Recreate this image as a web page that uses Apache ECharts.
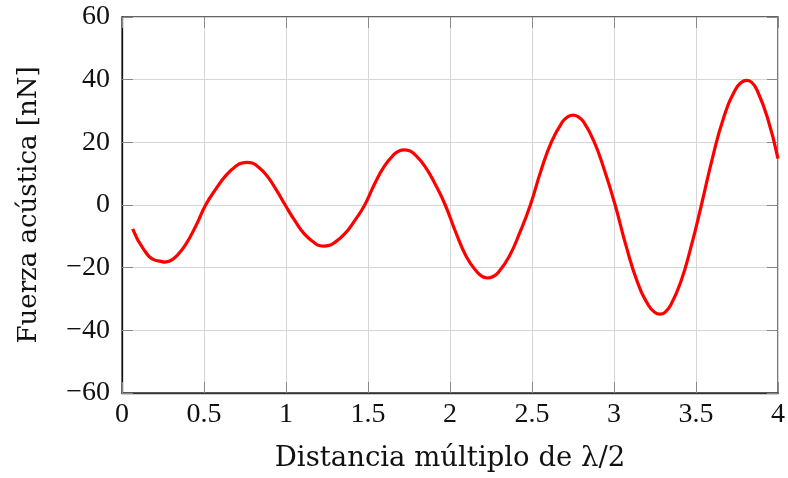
<!DOCTYPE html>
<html>
<head>
<meta charset="utf-8">
<script src="https://cdn.jsdelivr.net/npm/echarts@6/dist/echarts.min.js"></script>
<style>html,body{margin:0;padding:0;background:#fff}#c{width:788px;height:478px}</style>
</head>
<body>
<div id="c"></div>
<script>
var xValues = [0.065,0.13,0.20,0.231,0.261,0.291,0.33,0.385,0.45,0.51,0.575,0.637,0.70,0.733,0.763,0.793,0.82,0.88,0.94,0.995,
  1.055,1.113,1.175,1.202,1.232,1.262,1.29,1.356,1.42,1.48,1.54,1.60,1.66,1.692,1.722,1.752,1.78,1.846,1.91,1.971,
  2.035,2.10,2.165,2.200,2.230,2.260,2.295,2.36,2.425,2.49,2.555,2.62,2.685,2.720,2.750,2.780,2.815,2.878,2.94,3.007,
  3.075,3.143,3.21,3.250,3.280,3.310,3.345,3.407,3.47,3.533,3.60,3.67,3.74,3.778,3.808,3.838,3.87,3.935,4.0];
var forceValues = [-7.6,-14.0,-17.6,-17.9,-18.2,-17.9,-16.4,-12.9,-6.7,0,5.3,9.6,12.6,13.4,13.6,13.4,12.6,9.6,4.9,0,
  -5.1,-9.3,-12.1,-12.9,-13.1,-12.9,-12.2,-9.3,-4.9,0,6.7,12.4,16.2,17.3,17.6,17.3,16.4,12.4,6.6,0,
  -8.7,-16.5,-21.4,-22.9,-23.3,-22.9,-21.5,-16.5,-8.9,0,11.0,20.3,26.5,28.2,28.7,28.2,26.5,20.3,11.4,0,
  -13.3,-24.6,-32.0,-34.3,-34.8,-34.3,-32.0,-24.6,-13.3,0,14.9,28.1,36.8,39.2,39.8,39.2,36.9,28.0,14.8];
var xTicks = {min: 0, max: 4, step: 0.5};
var yTicks = {min: -60, max: 60, step: 20};
var xTitle = 'Distancia múltiplo de λ/2';
var yTitle = 'Fuerza acústica [nN]';

var data = xValues.map(function (x, i) { return [x, forceValues[i]]; });
var font = 'Liberation Serif';
var tfont = 'DejaVu Serif';
var fs = 28;
function fmt(v) { return String(v).replace('-', '\u2212'); }
var tickStyle = {show: true, inside: true, length: 11, lineStyle: {color: '#888', width: 1}};
var chart = echarts.init(document.getElementById('c'));
chart.setOption({
  animation: false,
  grid: {left: 122, right: 7, top: 17, bottom: 83, show: true, borderColor: '#333', borderWidth: 1.3, backgroundColor: 'transparent'},
  xAxis: [{
    type: 'value', min: xTicks.min, max: xTicks.max, interval: xTicks.step,
    axisLine: {show: true, onZero: false, lineStyle: {color: '#333', width: 1.3}},
    axisTick: tickStyle,
    splitLine: {show: true, lineStyle: {color: '#d6d6d6', width: 1}},
    axisLabel: {fontFamily: font, fontSize: fs, color: '#111', margin: 8, formatter: fmt},
    name: xTitle, nameLocation: 'middle', nameGap: 52,
    nameTextStyle: {fontFamily: tfont, fontSize: 27.5, color: '#111'}
  }, {
    type: 'value', position: 'top', min: xTicks.min, max: xTicks.max, interval: xTicks.step,
    axisLine: {show: false, onZero: false}, axisTick: tickStyle, splitLine: {show: false}, axisLabel: {show: false}
  }],
  yAxis: [{
    type: 'value', min: yTicks.min, max: yTicks.max, interval: yTicks.step,
    axisLine: {show: true, onZero: false, lineStyle: {color: '#111', width: 1.3}},
    axisTick: tickStyle,
    splitLine: {show: true, lineStyle: {color: '#d6d6d6', width: 1}},
    axisLabel: {fontFamily: font, fontSize: fs, color: '#111', margin: 12, formatter: fmt},
    name: yTitle, nameLocation: 'middle', nameGap: 80,
    nameTextStyle: {fontFamily: tfont, fontSize: 26, color: '#111'}
  }, {
    type: 'value', position: 'right', min: yTicks.min, max: yTicks.max, interval: yTicks.step,
    axisLine: {show: false, onZero: false}, axisTick: tickStyle, splitLine: {show: false}, axisLabel: {show: false}
  }],
  series: [{
    type: 'line', data: data, smooth: 0.5, showSymbol: false, symbol: 'none',
    lineStyle: {color: '#ff0000', width: 3.2}, clip: true
  }]
});
</script>
</body>
</html>
